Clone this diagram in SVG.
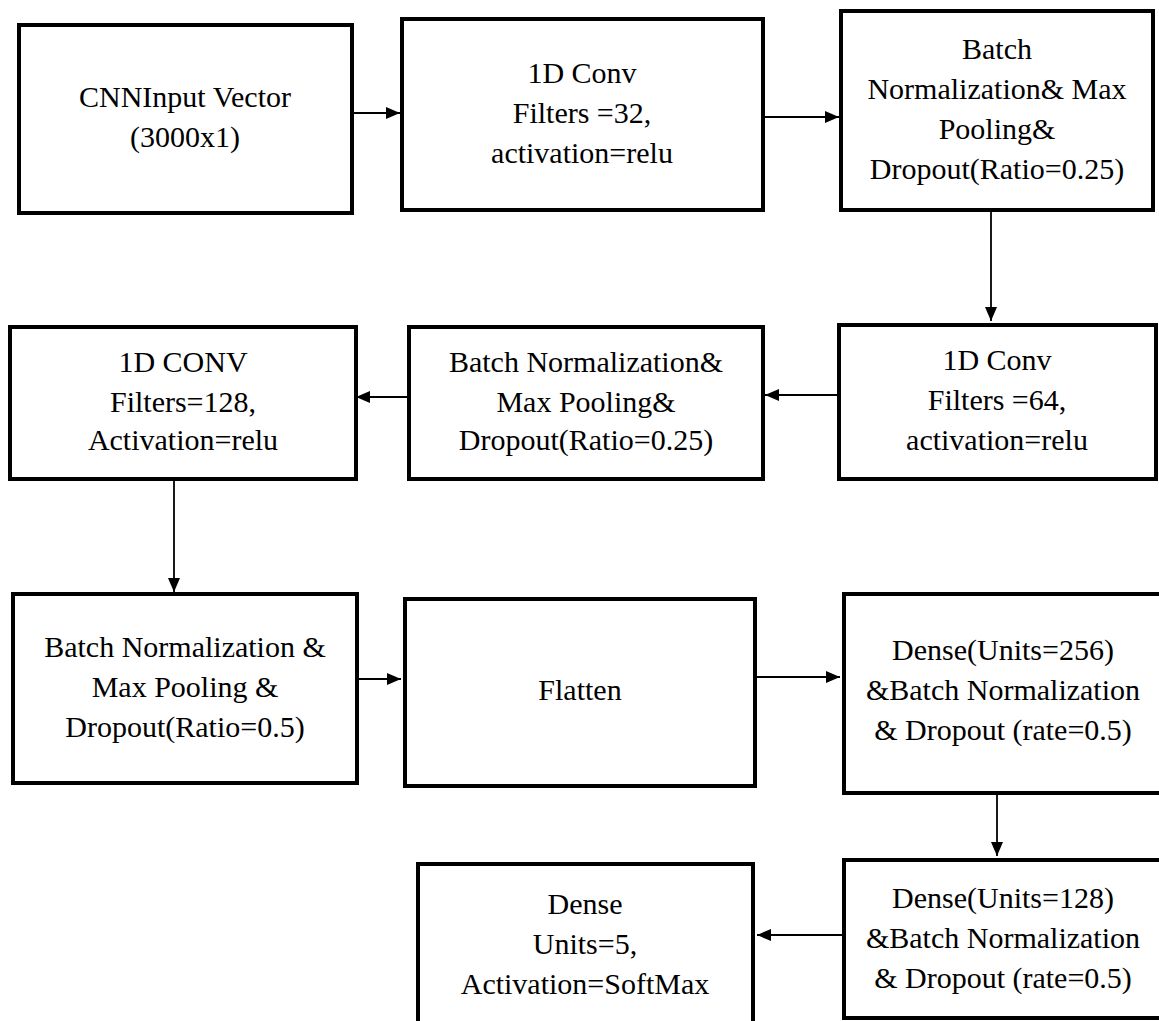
<svg xmlns="http://www.w3.org/2000/svg" width="1159" height="1021" viewBox="0 0 1159 1021">
<defs>
<marker id="arr" viewBox="0 0 14 12" refX="14" refY="6" markerWidth="14" markerHeight="12" markerUnits="userSpaceOnUse" orient="auto">
<path d="M0,0 L14,6 L0,12 Z" fill="#000"/>
</marker>
<style>
.box{fill:#fff;stroke:#000;stroke-width:4;stroke-linejoin:miter}
.lbl{font-family:"Liberation Serif","Times New Roman",serif;font-size:30px;fill:#000;text-anchor:middle}
.con{fill:none;stroke:#000;stroke-width:1.8;marker-end:url(#arr)}
</style>
</defs>
<rect width="1159" height="1021" fill="#fff"/>
<g id="connectors">
<line class="con" x1="354" y1="113" x2="400" y2="113"/>
<line class="con" x1="765" y1="117" x2="839" y2="117"/>
<line class="con" x1="991" y1="212" x2="991" y2="321"/>
<line class="con" x1="837" y1="395" x2="765" y2="395"/>
<line class="con" x1="407" y1="397" x2="356" y2="397"/>
<line class="con" x1="174" y1="481" x2="174" y2="592"/>
<line class="con" x1="359" y1="679" x2="401" y2="679"/>
<line class="con" x1="757" y1="677" x2="840" y2="677"/>
<line class="con" x1="997" y1="795" x2="997" y2="856"/>
<line class="con" x1="842" y1="935" x2="757" y2="935"/>
</g>
<g id="n1">
<rect class="box" x="19" y="25" width="333" height="188"/>
<text class="lbl" x="185" y="107">CNNInput Vector</text>
<text class="lbl" x="185" y="147">(3000x1)</text>
</g>
<g id="n2">
<rect class="box" x="402" y="19" width="361" height="191"/>
<text class="lbl" x="582" y="83">1D Conv</text>
<text class="lbl" x="582" y="123">Filters =32,</text>
<text class="lbl" x="582" y="163">activation=relu</text>
</g>
<g id="n3">
<rect class="box" x="841" y="11" width="312" height="199"/>
<text class="lbl" x="997" y="59">Batch</text>
<text class="lbl" x="997" y="99">Normalization&amp; Max</text>
<text class="lbl" x="997" y="139">Pooling&amp;</text>
<text class="lbl" x="997" y="179">Dropout(Ratio=0.25)</text>
</g>
<g id="n4">
<rect class="box" x="839" y="325" width="317" height="154"/>
<text class="lbl" x="997" y="370">1D Conv</text>
<text class="lbl" x="997" y="410">Filters =64,</text>
<text class="lbl" x="997" y="450">activation=relu</text>
</g>
<g id="n5">
<rect class="box" x="409" y="327" width="354" height="152"/>
<text class="lbl" x="586" y="372">Batch Normalization&amp;</text>
<text class="lbl" x="586" y="412">Max Pooling&amp;</text>
<text class="lbl" x="586" y="450">Dropout(Ratio=0.25)</text>
</g>
<g id="n6">
<rect class="box" x="10" y="327" width="346" height="152"/>
<text class="lbl" x="183" y="372">1D CONV</text>
<text class="lbl" x="183" y="412">Filters=128,</text>
<text class="lbl" x="183" y="450">Activation=relu</text>
</g>
<g id="n7">
<rect class="box" x="13" y="594" width="344" height="189"/>
<text class="lbl" x="185" y="657">Batch Normalization &amp;</text>
<text class="lbl" x="185" y="697">Max Pooling &amp;</text>
<text class="lbl" x="185" y="737">Dropout(Ratio=0.5)</text>
</g>
<g id="n8">
<rect class="box" x="405" y="599" width="350" height="187"/>
<text class="lbl" x="580" y="700">Flatten</text>
</g>
<g id="n9">
<rect class="box" x="844" y="594" width="330" height="199"/>
<text class="lbl" x="1003" y="660">Dense(Units=256)</text>
<text class="lbl" x="1003" y="700">&amp;Batch Normalization</text>
<text class="lbl" x="1003" y="740">&amp; Dropout (rate=0.5)</text>
</g>
<g id="n10">
<rect class="box" x="844" y="860" width="330" height="158"/>
<text class="lbl" x="1003" y="908">Dense(Units=128)</text>
<text class="lbl" x="1003" y="948">&amp;Batch Normalization</text>
<text class="lbl" x="1003" y="988">&amp; Dropout (rate=0.5)</text>
</g>
<g id="n11">
<rect class="box" x="418" y="864" width="335" height="170"/>
<text class="lbl" x="585" y="914">Dense</text>
<text class="lbl" x="585" y="954">Units=5,</text>
<text class="lbl" x="585" y="994">Activation=SoftMax</text>
</g>
</svg>
